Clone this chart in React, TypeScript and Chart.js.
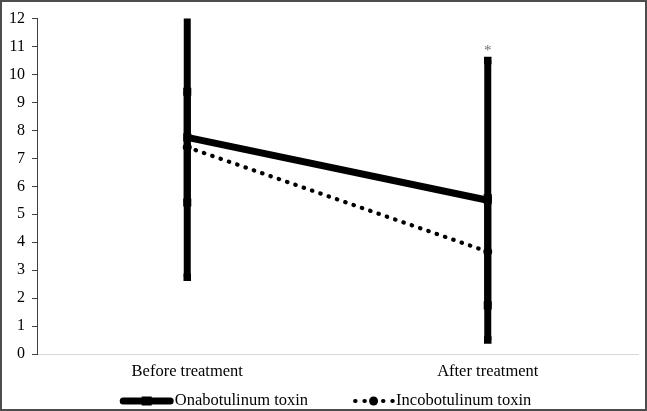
import React, { useEffect, useRef } from 'react';
import { Chart, registerables } from 'chart.js';

Chart.register(...registerables);

// ---- data ----
const categories = ['Before treatment', 'After treatment'];
const seriesNames = ['Onabotulinum toxin', 'Incobotulinum toxin'];
const onaMean = [7.75, 5.5];
const onaSD = [5.0, 5.0];
const incoMean = [7.4, 3.66];
const incoSD = [1.98, 1.92];
const significance = ['', '*'];
const yMin = 0;
const yMax = 12;
const yStep = 1;

const FONT = "'Liberation Serif', 'Times New Roman', Times, serif";

function errorBar(cat: string, mean: number, sd: number, capRadius: number, order: number) {
  return {
    type: 'line' as const,
    label: '',
    data: [
      { x: cat, y: mean - sd },
      { x: cat, y: mean + sd },
    ],
    borderColor: '#000',
    backgroundColor: '#000',
    borderWidth: 7,
    borderCapStyle: 'butt',
    pointStyle: 'rect',
    pointRadius: capRadius,
    pointHoverRadius: capRadius,
    pointBorderWidth: 0,
    pointBackgroundColor: '#000',
    clip: 0,
    order,
  };
}

const overlayPlugin = {
  id: 'overlay',
  afterDraw(chart: any) {
    const ctx = chart.ctx as CanvasRenderingContext2D;
    const xs = chart.scales.x;
    const ys = chart.scales.y;
    ctx.save();
    // significance marks above the onabotulinum error bars
    ctx.font = `15px ${FONT}`;
    ctx.fillStyle = '#6f6f6f';
    ctx.textAlign = 'center';
    ctx.textBaseline = 'alphabetic';
    significance.forEach((s, i) => {
      if (!s) return;
      const px = xs.getPixelForValue(i);
      const py = ys.getPixelForValue(onaMean[i] + onaSD[i]);
      ctx.fillText(s, px, py - 6);
    });

    // legend
    ctx.font = `16.5px ${FONT}`;
    ctx.fillStyle = '#000';
    ctx.textAlign = 'left';
    ctx.textBaseline = 'middle';
    const t1 = ctx.measureText(seriesNames[0]).width;
    const t2 = ctx.measureText(seriesNames[1]).width;
    const s1 = 54, g1 = 1, gap = 45, s2 = 41, g2 = 2;
    const total = s1 + g1 + t1 + gap + s2 + g2 + t2;
    let x = chart.width / 2 + 2 - total / 2;
    const cy = chart.height - 8;

    // Ona sample
    ctx.strokeStyle = '#000';
    ctx.lineWidth = 7;
    ctx.lineCap = 'round';
    ctx.beginPath();
    ctx.moveTo(x + 3.5, cy);
    ctx.lineTo(x + s1 - 3.5, cy);
    ctx.stroke();
    ctx.fillRect(x + s1 / 2 - 5, cy - 4.5, 10, 9);
    x += s1 + g1;
    ctx.fillText(seriesNames[0], x, cy);
    x += t1 + gap;

    // Inco sample
    ctx.lineWidth = 4;
    ctx.setLineDash([0.5, 8.8]);
    ctx.beginPath();
    ctx.moveTo(x + 2, cy);
    ctx.lineTo(x + s2 - 1, cy);
    ctx.stroke();
    ctx.setLineDash([]);
    ctx.beginPath();
    ctx.arc(x + s2 / 2, cy, 4.5, 0, Math.PI * 2);
    ctx.fill();
    x += s2 + g2;
    ctx.fillText(seriesNames[1], x, cy);
    ctx.restore();
  },
};

export default function App() {
  const ref = useRef<HTMLCanvasElement | null>(null);

  useEffect(() => {
    if (!ref.current) return;
    const datasets: any[] = [
      ...categories.map((c, i) => errorBar(c, onaMean[i], onaSD[i], 5.3, 0)),
      ...categories.map((c, i) => errorBar(c, incoMean[i], incoSD[i], 5.7, 1)),
      {
        type: 'line',
        label: seriesNames[0],
        data: onaMean,
        borderColor: '#000',
        backgroundColor: '#000',
        borderWidth: 7,
        borderCapStyle: 'butt',
        pointStyle: 'rect',
        pointRadius: 5.7,
        pointHoverRadius: 5.7,
        pointBorderWidth: 0,
        pointBackgroundColor: '#000',
        tension: 0,
        order: 2,
      },
      {
        type: 'line',
        label: seriesNames[1],
        data: incoMean,
        borderColor: '#000',
        backgroundColor: '#000',
        borderWidth: 4.2,
        borderCapStyle: 'round',
        borderDash: [0.5, 8.3],
        pointStyle: 'circle',
        pointRadius: 4.5,
        pointHoverRadius: 4.5,
        pointBorderWidth: 0,
        pointBackgroundColor: '#000',
        tension: 0,
        order: 3,
      },
    ];

    const chart = new Chart(ref.current, {
      type: 'line',
      data: { labels: categories, datasets },
      options: {
        responsive: true,
        maintainAspectRatio: false,
        devicePixelRatio: 1,
        animation: false,
        layout: { padding: { top: 13, right: 7, left: 0, bottom: 0 } },
        plugins: {
          legend: { display: false },
          tooltip: { enabled: false },
        },
        scales: {
          x: {
            type: 'category',
            offset: true,
            grid: { display: false, drawTicks: false },
            border: { display: true, color: '#d9d9d9', width: 1 },
            ticks: {
              font: { family: FONT, size: 16.5 },
              color: '#000',
              padding: 8,
              maxRotation: 0,
              autoSkip: false,
            },
            afterFit: (s: any) => {
              s.height = 55;
            },
          },
          y: {
            min: yMin,
            max: yMax,
            ticks: {
              stepSize: yStep,
              font: { family: FONT, size: 16 },
              color: '#000',
              padding: 7,
            },
            grid: { drawOnChartArea: false, drawTicks: true, tickLength: 5, color: '#404040' },
            border: { display: true, color: '#404040', width: 1 },
            afterFit: (s: any) => {
              s.width = 35;
            },
          },
        },
      } as any,
      plugins: [overlayPlugin],
    });
    return () => chart.destroy();
  }, []);

  return (
    <div
      style={{
        position: 'absolute',
        left: 0,
        top: 0,
        width: 647,
        height: 411,
        boxSizing: 'border-box',
        border: '2px solid #4d4d4d',
        background: '#fff',
      }}
    >
      <div style={{ position: 'relative', width: 643, height: 407 }}>
        <canvas ref={ref} />
      </div>
    </div>
  );
}
